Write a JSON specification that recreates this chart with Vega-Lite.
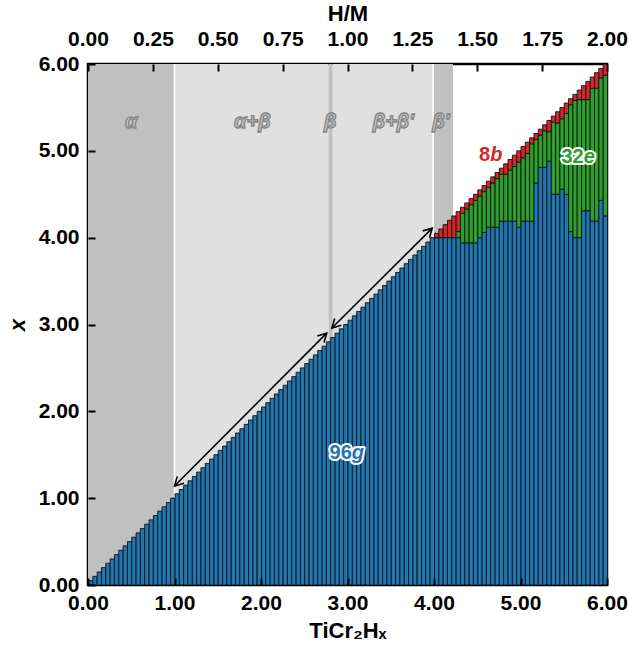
{
  "$schema": "https://vega.github.io/schema/vega-lite/v6.json",
  "width": 519,
  "height": 521,
  "autosize": {"type": "none"},
  "padding": {"left": 88, "top": 64, "right": 22, "bottom": 66},
  "background": "white",
  "config": {
    "view": {"stroke": "black", "strokeWidth": 2.5},
    "font": "Liberation Sans",
    "axis": {
      "domain": false,
      "grid": false,
      "zindex": 2,
      "labelFont": "Liberation Sans",
      "labelFontSize": 21,
      "labelFontWeight": "bold",
      "labelColor": "black",
      "labelFlush": false,
      "labelOverlap": false,
      "tickColor": "black",
      "tickWidth": 2,
      "tickSize": 7,
      "titleFont": "Liberation Sans",
      "titleFontSize": 22,
      "titleFontWeight": "bold",
      "titleColor": "black"
    }
  },
  "datasets": {
    "phases": [
      {"phase": "α", "from": 0.0, "to": 1.0, "kind": "single"},
      {"phase": "α+β", "from": 1.0, "to": 2.78, "kind": "mixed"},
      {"phase": "β", "from": 2.78, "to": 2.83, "kind": "single"},
      {"phase": "β+β'", "from": 2.83, "to": 3.99, "kind": "mixed"},
      {"phase": "β'", "from": 3.99, "to": 4.22, "kind": "single"}
    ],
    "boundaries": [{"at": 1.0}, {"at": 3.99}],
    "phaseLabels": [
      {"label": "α", "at": 0.5},
      {"label": "α+β", "at": 1.9},
      {"label": "β", "at": 2.8},
      {"label": "β+β'", "at": 3.53},
      {"label": "β'", "at": 4.08}
    ],
    "occupancy": [
      {"lo": 0.00, "hi": 0.05, "g96": 0.05},
      {"lo": 0.05, "hi": 0.10, "g96": 0.10},
      {"lo": 0.10, "hi": 0.15, "g96": 0.15},
      {"lo": 0.15, "hi": 0.20, "g96": 0.20},
      {"lo": 0.20, "hi": 0.25, "g96": 0.25},
      {"lo": 0.25, "hi": 0.30, "g96": 0.30},
      {"lo": 0.30, "hi": 0.35, "g96": 0.35},
      {"lo": 0.35, "hi": 0.40, "g96": 0.40},
      {"lo": 0.40, "hi": 0.45, "g96": 0.45},
      {"lo": 0.45, "hi": 0.50, "g96": 0.50},
      {"lo": 0.50, "hi": 0.55, "g96": 0.55},
      {"lo": 0.55, "hi": 0.60, "g96": 0.60},
      {"lo": 0.60, "hi": 0.65, "g96": 0.65},
      {"lo": 0.65, "hi": 0.70, "g96": 0.70},
      {"lo": 0.70, "hi": 0.75, "g96": 0.75},
      {"lo": 0.75, "hi": 0.80, "g96": 0.80},
      {"lo": 0.80, "hi": 0.85, "g96": 0.85},
      {"lo": 0.85, "hi": 0.90, "g96": 0.90},
      {"lo": 0.90, "hi": 0.95, "g96": 0.95},
      {"lo": 0.95, "hi": 1.00, "g96": 1.00},
      {"lo": 1.00, "hi": 1.05, "g96": 1.05},
      {"lo": 1.05, "hi": 1.10, "g96": 1.10},
      {"lo": 1.10, "hi": 1.15, "g96": 1.15},
      {"lo": 1.15, "hi": 1.20, "g96": 1.20},
      {"lo": 1.20, "hi": 1.25, "g96": 1.25},
      {"lo": 1.25, "hi": 1.30, "g96": 1.30},
      {"lo": 1.30, "hi": 1.35, "g96": 1.35},
      {"lo": 1.35, "hi": 1.40, "g96": 1.40},
      {"lo": 1.40, "hi": 1.45, "g96": 1.45},
      {"lo": 1.45, "hi": 1.50, "g96": 1.50},
      {"lo": 1.50, "hi": 1.55, "g96": 1.55},
      {"lo": 1.55, "hi": 1.60, "g96": 1.60},
      {"lo": 1.60, "hi": 1.65, "g96": 1.65},
      {"lo": 1.65, "hi": 1.70, "g96": 1.70},
      {"lo": 1.70, "hi": 1.75, "g96": 1.75},
      {"lo": 1.75, "hi": 1.80, "g96": 1.80},
      {"lo": 1.80, "hi": 1.85, "g96": 1.85},
      {"lo": 1.85, "hi": 1.90, "g96": 1.90},
      {"lo": 1.90, "hi": 1.95, "g96": 1.95},
      {"lo": 1.95, "hi": 2.00, "g96": 2.00},
      {"lo": 2.00, "hi": 2.05, "g96": 2.05},
      {"lo": 2.05, "hi": 2.10, "g96": 2.10},
      {"lo": 2.10, "hi": 2.15, "g96": 2.15},
      {"lo": 2.15, "hi": 2.20, "g96": 2.20},
      {"lo": 2.20, "hi": 2.25, "g96": 2.25},
      {"lo": 2.25, "hi": 2.30, "g96": 2.30},
      {"lo": 2.30, "hi": 2.35, "g96": 2.35},
      {"lo": 2.35, "hi": 2.40, "g96": 2.40},
      {"lo": 2.40, "hi": 2.45, "g96": 2.45},
      {"lo": 2.45, "hi": 2.50, "g96": 2.50},
      {"lo": 2.50, "hi": 2.55, "g96": 2.55},
      {"lo": 2.55, "hi": 2.60, "g96": 2.60},
      {"lo": 2.60, "hi": 2.65, "g96": 2.65},
      {"lo": 2.65, "hi": 2.70, "g96": 2.70},
      {"lo": 2.70, "hi": 2.75, "g96": 2.75},
      {"lo": 2.75, "hi": 2.80, "g96": 2.80},
      {"lo": 2.80, "hi": 2.85, "g96": 2.85},
      {"lo": 2.85, "hi": 2.90, "g96": 2.90},
      {"lo": 2.90, "hi": 2.95, "g96": 2.95},
      {"lo": 2.95, "hi": 3.00, "g96": 3.00},
      {"lo": 3.00, "hi": 3.05, "g96": 3.05},
      {"lo": 3.05, "hi": 3.10, "g96": 3.10},
      {"lo": 3.10, "hi": 3.15, "g96": 3.15},
      {"lo": 3.15, "hi": 3.20, "g96": 3.20},
      {"lo": 3.20, "hi": 3.25, "g96": 3.25},
      {"lo": 3.25, "hi": 3.30, "g96": 3.30},
      {"lo": 3.30, "hi": 3.35, "g96": 3.35},
      {"lo": 3.35, "hi": 3.40, "g96": 3.40},
      {"lo": 3.40, "hi": 3.45, "g96": 3.45},
      {"lo": 3.45, "hi": 3.50, "g96": 3.50},
      {"lo": 3.50, "hi": 3.55, "g96": 3.55},
      {"lo": 3.55, "hi": 3.60, "g96": 3.60},
      {"lo": 3.60, "hi": 3.65, "g96": 3.65},
      {"lo": 3.65, "hi": 3.70, "g96": 3.70},
      {"lo": 3.70, "hi": 3.75, "g96": 3.75},
      {"lo": 3.75, "hi": 3.80, "g96": 3.80},
      {"lo": 3.80, "hi": 3.85, "g96": 3.85},
      {"lo": 3.85, "hi": 3.90, "g96": 3.90},
      {"lo": 3.90, "hi": 3.95, "g96": 3.95},
      {"lo": 3.95, "hi": 4.00, "g96": 4.00},
      {"lo": 4.00, "hi": 4.05, "g96": 4.00, "e32": 0, "b8": 0.05},
      {"lo": 4.05, "hi": 4.10, "g96": 4.00, "e32": 0, "b8": 0.10},
      {"lo": 4.10, "hi": 4.15, "g96": 4.00, "e32": 0, "b8": 0.15},
      {"lo": 4.15, "hi": 4.20, "g96": 4.00, "e32": 0, "b8": 0.20},
      {"lo": 4.20, "hi": 4.25, "g96": 4.00, "e32": 0, "b8": 0.25},
      {"lo": 4.25, "hi": 4.30, "g96": 4.00, "e32": 0.07, "b8": 0.23},
      {"lo": 4.30, "hi": 4.35, "g96": 3.94, "e32": 0.34, "b8": 0.07},
      {"lo": 4.35, "hi": 4.40, "g96": 3.94, "e32": 0.39, "b8": 0.07},
      {"lo": 4.40, "hi": 4.45, "g96": 3.94, "e32": 0.44, "b8": 0.07},
      {"lo": 4.45, "hi": 4.50, "g96": 3.94, "e32": 0.49, "b8": 0.07},
      {"lo": 4.50, "hi": 4.55, "g96": 4.00, "e32": 0.48, "b8": 0.07},
      {"lo": 4.55, "hi": 4.60, "g96": 4.06, "e32": 0.47, "b8": 0.07},
      {"lo": 4.60, "hi": 4.65, "g96": 4.12, "e32": 0.46, "b8": 0.07},
      {"lo": 4.65, "hi": 4.70, "g96": 4.12, "e32": 0.51, "b8": 0.07},
      {"lo": 4.70, "hi": 4.75, "g96": 4.12, "e32": 0.56, "b8": 0.07},
      {"lo": 4.75, "hi": 4.80, "g96": 4.19, "e32": 0.54, "b8": 0.07},
      {"lo": 4.80, "hi": 4.85, "g96": 4.19, "e32": 0.54, "b8": 0.12},
      {"lo": 4.85, "hi": 4.90, "g96": 4.19, "e32": 0.59, "b8": 0.12},
      {"lo": 4.90, "hi": 4.95, "g96": 4.19, "e32": 0.63, "b8": 0.13},
      {"lo": 4.95, "hi": 5.00, "g96": 4.12, "e32": 0.75, "b8": 0.13},
      {"lo": 5.00, "hi": 5.05, "g96": 4.19, "e32": 0.73, "b8": 0.13},
      {"lo": 5.05, "hi": 5.10, "g96": 4.19, "e32": 0.78, "b8": 0.13},
      {"lo": 5.10, "hi": 5.15, "g96": 4.19, "e32": 0.89, "b8": 0.07},
      {"lo": 5.15, "hi": 5.20, "g96": 4.63, "e32": 0.50, "b8": 0.07},
      {"lo": 5.20, "hi": 5.25, "g96": 4.81, "e32": 0.37, "b8": 0.07},
      {"lo": 5.25, "hi": 5.30, "g96": 4.81, "e32": 0.42, "b8": 0.07},
      {"lo": 5.30, "hi": 5.35, "g96": 4.88, "e32": 0.34, "b8": 0.13},
      {"lo": 5.35, "hi": 5.40, "g96": 4.50, "e32": 0.83, "b8": 0.07},
      {"lo": 5.40, "hi": 5.45, "g96": 4.50, "e32": 0.82, "b8": 0.13},
      {"lo": 5.45, "hi": 5.50, "g96": 4.56, "e32": 0.81, "b8": 0.13},
      {"lo": 5.50, "hi": 5.55, "g96": 4.50, "e32": 0.93, "b8": 0.12},
      {"lo": 5.55, "hi": 5.60, "g96": 4.07, "e32": 1.46, "b8": 0.07},
      {"lo": 5.60, "hi": 5.65, "g96": 4.00, "e32": 1.58, "b8": 0.07},
      {"lo": 5.65, "hi": 5.70, "g96": 4.00, "e32": 1.59, "b8": 0.11},
      {"lo": 5.70, "hi": 5.75, "g96": 4.31, "e32": 1.28, "b8": 0.16},
      {"lo": 5.75, "hi": 5.80, "g96": 4.31, "e32": 1.28, "b8": 0.21},
      {"lo": 5.80, "hi": 5.85, "g96": 4.19, "e32": 1.53, "b8": 0.13},
      {"lo": 5.85, "hi": 5.90, "g96": 4.19, "e32": 1.53, "b8": 0.18},
      {"lo": 5.90, "hi": 5.95, "g96": 4.43, "e32": 1.41, "b8": 0.11},
      {"lo": 5.95, "hi": 6.00, "g96": 4.25, "e32": 1.62, "b8": 0.13}
    ],
    "arrows": [
      {"fromX": 1.0, "fromY": 1.14, "toX": 2.76, "toY": 2.9},
      {"fromX": 2.82, "fromY": 2.96, "toX": 3.98, "toY": 4.11}
    ],
    "siteLabels": [
      {"site": "g96", "num": "96", "letter": "g", "at": 3.05, "level": 1.52},
      {"site": "e32", "num": "32", "letter": "e", "at": 5.73, "level": 4.93},
      {"site": "b8", "num": "8", "letter": "b", "at": 4.65, "level": 4.95}
    ]
  },
  "layer": [
    {
      "data": {"name": "phases"},
      "mark": {"type": "rect"},
      "encoding": {
        "x": {
          "field": "from", "type": "quantitative",
          "scale": {"domain": [0, 6], "nice": false, "zero": false},
          "axis": {
            "orient": "bottom", "values": [0, 1, 2, 3, 4, 5, 6], "format": ".2f",
            "ticks": false, "tickSize": 0,
            "title": "TiCr₂Hₓ", "labelPadding": 7, "titlePadding": 7
          }
        },
        "x2": {"field": "to"},
        "y": {
          "datum": 0, "type": "quantitative",
          "scale": {"domain": [0, 6], "nice": false, "zero": false},
          "axis": {
            "orient": "left", "values": [0, 1, 2, 3, 4, 5, 6], "format": ".2f",
            "ticks": false, "tickSize": 0,
            "title": "x", "titleFontStyle": "italic", "labelPadding": 9, "titlePadding": 9
          }
        },
        "y2": {"datum": 6},
        "color": {
          "field": "kind", "type": "nominal",
          "scale": {"domain": ["single", "mixed"], "range": ["#c0c0c0", "#e0e0e0"]},
          "legend": null
        }
      }
    },
    {
      "data": {"name": "boundaries"},
      "mark": {"type": "rule", "color": "white", "strokeWidth": 1.6},
      "encoding": {
        "x": {
          "field": "at", "type": "quantitative",
          "axis": {"orient": "bottom", "values": [0, 1, 2, 3, 4, 5, 6], "labels": false, "title": null, "ticks": true, "tickSize": 7, "tickWidth": 2, "tickColor": "black", "offset": -7, "zindex": 2}
        }
      }
    },
    {
      "data": {"name": "occupancy"},
      "transform": [
        {"fold": ["g96", "e32", "b8"], "as": ["site", "n"]},
        {"filter": "datum.n > 0"}
      ],
      "mark": {"type": "bar", "stroke": "#111111", "strokeWidth": 0.9, "binSpacing": 0},
      "encoding": {
        "x": {
          "field": "lo", "type": "quantitative", "bin": {"binned": true},
          "axis": {
            "orient": "top", "values": [0, 0.75, 1.5, 2.25, 3, 3.75, 4.5, 5.25, 6],
            "labelExpr": "format(datum.value / 3, '.2f')",
            "ticks": false, "tickSize": 0,
            "title": "H/M", "labelPadding": 15, "titlePadding": 3
          }
        },
        "x2": {"field": "hi"},
        "y": {"field": "n", "type": "quantitative", "stack": "zero", "axis": null},
        "order": {"field": "site", "sort": "descending"},
        "color": {
          "field": "site", "type": "nominal",
          "scale": {"domain": ["g96", "e32", "b8"], "range": ["#1f77b4", "#2ca02c", "#d62728"]},
          "legend": null
        }
      }
    },
    {
      "data": {"name": "arrows"},
      "mark": {"type": "rule", "color": "black", "strokeWidth": 1.6},
      "encoding": {
        "x": {
          "field": "fromX", "type": "quantitative",
          "axis": {"orient": "top", "values": [0, 0.75, 1.5, 2.25, 3, 3.75, 4.5, 5.25, 6], "labels": false, "title": null, "ticks": true, "tickSize": 7, "tickWidth": 2, "tickColor": "black", "offset": -7, "zindex": 2}
        },
        "y": {
          "field": "fromY", "type": "quantitative",
          "axis": {"orient": "left", "values": [0, 1, 2, 3, 4, 5, 6], "labels": false, "title": null, "ticks": true, "tickSize": 7, "tickWidth": 2, "tickColor": "black", "offset": -7, "zindex": 2}
        },
        "x2": {"field": "toX"},
        "y2": {"field": "toY"}
      }
    },
    {
      "data": {"name": "arrows"},
      "mark": {"type": "point", "shape": "M-1,-0.55L0,0L-1,0.55", "filled": false, "stroke": "black", "strokeWidth": 1.6, "size": 300, "angle": 135, "opacity": 1},
      "encoding": {
        "x": {"field": "fromX", "type": "quantitative", "axis": null},
        "y": {"field": "fromY", "type": "quantitative", "axis": null}
      }
    },
    {
      "data": {"name": "arrows"},
      "mark": {"type": "point", "shape": "M-1,-0.55L0,0L-1,0.55", "filled": false, "stroke": "black", "strokeWidth": 1.6, "size": 300, "angle": -45, "opacity": 1},
      "encoding": {
        "x": {"field": "toX", "type": "quantitative", "axis": null},
        "y": {"field": "toY", "type": "quantitative", "axis": null}
      }
    },
    {
      "data": {"name": "phaseLabels"},
      "mark": {"type": "text", "fontSize": 20, "fontWeight": "bold", "fontStyle": "italic", "fill": "#c4c4c4", "stroke": "#858585", "strokeWidth": 1.3, "baseline": "middle", "align": "center"},
      "encoding": {
        "x": {"field": "at", "type": "quantitative", "axis": null},
        "y": {"datum": 5.33, "type": "quantitative", "axis": null},
        "text": {"field": "label"}
      }
    },
    {
      "data": {"name": "siteLabels"},
      "mark": {"type": "text", "fontSize": 20, "fontWeight": "bold", "baseline": "middle", "align": "right", "fill": "white", "stroke": "white", "strokeWidth": 4, "strokeJoin": "round"},
      "encoding": {
        "x": {"field": "at", "type": "quantitative", "axis": null},
        "y": {"field": "level", "type": "quantitative", "axis": null},
        "text": {"field": "num"}
      }
    },
    {
      "data": {"name": "siteLabels"},
      "mark": {"type": "text", "fontSize": 20, "fontWeight": "bold", "fontStyle": "italic", "baseline": "middle", "align": "left", "fill": "white", "stroke": "white", "strokeWidth": 4, "strokeJoin": "round"},
      "encoding": {
        "x": {"field": "at", "type": "quantitative", "axis": null},
        "y": {"field": "level", "type": "quantitative", "axis": null},
        "text": {"field": "letter"}
      }
    },
    {
      "data": {"name": "siteLabels"},
      "mark": {"type": "text", "fontSize": 20, "fontWeight": "bold", "baseline": "middle", "align": "right"},
      "encoding": {
        "x": {"field": "at", "type": "quantitative", "axis": null},
        "y": {"field": "level", "type": "quantitative", "axis": null},
        "text": {"field": "num"},
        "color": {
          "field": "site", "type": "nominal",
          "scale": {"domain": ["g96", "e32", "b8"], "range": ["#1f77b4", "#2ca02c", "#d62728"]},
          "legend": null
        }
      }
    },
    {
      "data": {"name": "siteLabels"},
      "mark": {"type": "text", "fontSize": 20, "fontWeight": "bold", "fontStyle": "italic", "baseline": "middle", "align": "left"},
      "encoding": {
        "x": {"field": "at", "type": "quantitative", "axis": null},
        "y": {"field": "level", "type": "quantitative", "axis": null},
        "text": {"field": "letter"},
        "color": {
          "field": "site", "type": "nominal",
          "scale": {"domain": ["g96", "e32", "b8"], "range": ["#1f77b4", "#2ca02c", "#d62728"]},
          "legend": null
        }
      }
    }
  ],
  "resolve": {
    "axis": {"x": "independent", "y": "independent"},
    "scale": {"color": "independent"}
  }
}
